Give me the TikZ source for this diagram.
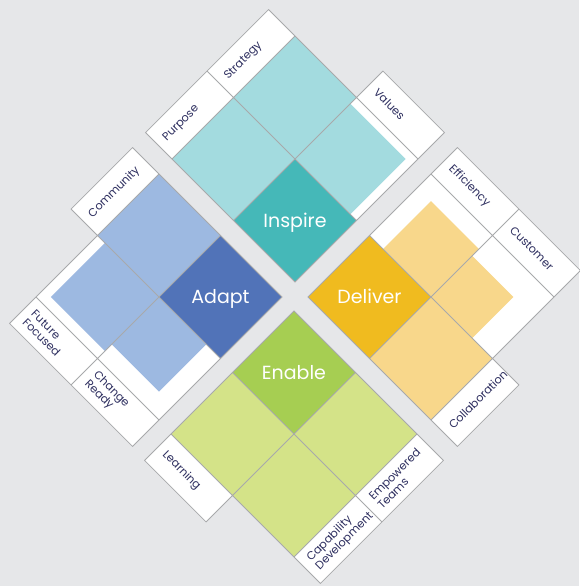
\documentclass[tikz,border=0pt]{standalone}
\usepackage{fontspec}
\setmainfont{Poppins}
\definecolor{bg}{HTML}{E6E7E9}
\definecolor{linegrey}{HTML}{A8A9AB}
\definecolor{navy}{HTML}{2D2E5F}
\definecolor{insD}{HTML}{45B8B8}
\definecolor{insL}{HTML}{A3DBDF}
\definecolor{adaD}{HTML}{5173B8}
\definecolor{adaL}{HTML}{9DB9E1}
\definecolor{delD}{HTML}{F0BB1F}
\definecolor{delL}{HTML}{F8D78B}
\definecolor{enaD}{HTML}{A6CE52}
\definecolor{enaL}{HTML}{D4E388}
\tikzset{
  cellline/.style={draw=linegrey, line width=0.75pt},
  lab/.style={text=navy, font=\fontsize{11.3}{12.3}\selectfont, anchor=west, inner sep=0pt, align=left},
  big/.style={text=white, font=\fontsize{19}{20}\selectfont, inner sep=0pt, text height=13pt, text depth=0pt},
  quad/.style={rotate=45, x=86.97pt, y=86.97pt}
}
\begin{document}
\begin{tikzpicture}[x=1pt,y=1pt]
\fill[bg] (0,0) rectangle (579,-586);
\useasboundingbox (0,0) rectangle (579,-586);

% ---------- Inspire ----------
\begin{scope}[shift={(295pt,-282pt)}, quad]
  \fill[white] (1,0) rectangle (2,1);
  \fill[white] (0,2) rectangle (2,2.43);
  \fill[white] (2,0) rectangle (2.43,1);
  \fill[insL] (0,1) rectangle (2,2);
  \fill[insL] (1,0.1) rectangle (1.9,1);
  \fill[insD] (0,0) rectangle (1,1);
  \draw[cellline] (0,0) rectangle (1,1) (1,0) rectangle (2,1)
    (0,1) rectangle (1,2) (1,1) rectangle (2,2)
    (0,2) rectangle (1,2.43) (1,2) rectangle (2,2.43) (2,0) rectangle (2.43,1);
  \node[big] (inspire) at (0.5,0.5) {Inspire};
  \node[lab, rotate=45] (purpose) at (0.1,2.215) {Purpose};
  \node[lab, rotate=45] (strategy) at (1.1,2.215) {Strategy};
  \node[lab, rotate=-45] (values) at (2.215,0.9) {Values};
\end{scope}

% ---------- Adapt ----------
\begin{scope}[shift={(282pt,-297pt)}, quad]
  \fill[white] (-2,0) rectangle (-1,2);
  \fill[white] (-1,2) rectangle (0,2.43);
  \fill[white] (-2.43,0) rectangle (-2,2);
  \fill[adaL] (-1,1) rectangle (0,2);
  \fill[adaL] (-1.88,1) rectangle (-1,1.88);
  \fill[adaL] (-1.77,0.23) rectangle (-1,1);
  \fill[adaD] (-1,0) rectangle (0,1);
  \draw[cellline] (-1,0) rectangle (0,1) (-1,1) rectangle (0,2)
    (-2,1) rectangle (-1,2) (-2,0) rectangle (-1,1)
    (-1,2) rectangle (0,2.43) (-2.43,1) rectangle (-2,2) (-2.43,0) rectangle (-2,1);
  \node[big] (adapt) at (-0.5,0.5) {Adapt};
  \node[lab, rotate=45] (community) at (-0.9,2.215) {Community};
  \node[lab, rotate=-45] (future) at (-2.215,1.9) {Future\\Focused};
  \node[lab, rotate=-45] (change) at (-2.215,0.9) {Change\\Ready};
\end{scope}

% ---------- Deliver ----------
\begin{scope}[shift={(308pt,-297pt)}, quad]
  \fill[white] (1,-2) rectangle (2,0);
  \fill[white] (2,-2) rectangle (2.43,0);
  \fill[white] (0,-2.43) rectangle (1,-2);
  \fill[delL] (0,-2) rectangle (1,-1);
  \fill[delL] (1,-1) rectangle (1.78,-0.22);
  \fill[delL] (1,-1.67) rectangle (1.67,-1);
  \fill[delD] (0,-1) rectangle (1,0);
  \draw[cellline] (0,-1) rectangle (1,0) (0,-2) rectangle (1,-1)
    (1,-1) rectangle (2,0) (1,-2) rectangle (2,-1)
    (2,-1) rectangle (2.43,0) (2,-2) rectangle (2.43,-1) (0,-2.43) rectangle (1,-2);
  \node[big] (deliver) at (0.5,-0.5) {Deliver};
  \node[lab, rotate=-45] (efficiency) at (2.215,-0.1) {Efficiency};
  \node[lab, rotate=-45] (customer) at (2.215,-1.1) {Customer};
  \node[lab, rotate=45] (collab) at (0.1,-2.215) {Collaboration};
\end{scope}

% ---------- Enable ----------
\begin{scope}[shift={(294pt,-311pt)}, quad]
  \fill[white] (-2.43,-1) rectangle (-2,0);
  \fill[white] (-2,-2.43) rectangle (0,-2);
  \fill[enaL] (-2,-2) rectangle (0,0);
  \fill[enaD] (-1,-1) rectangle (0,0);
  \draw[cellline] (-1,-1) rectangle (0,0) (-2,-1) rectangle (-1,0)
    (-1,-2) rectangle (0,-1) (-2,-2) rectangle (-1,-1)
    (-2.43,-1) rectangle (-2,0) (-2,-2.43) rectangle (-1,-2) (-1,-2.43) rectangle (0,-2);
  \node[big] (enable) at (-0.5,-0.5) {Enable};
  \node[lab, rotate=-45] (learning) at (-2.215,-0.1) {Learning};
  \node[lab, rotate=45] (capability) at (-1.9,-2.215) {Capability\\Development};
  \node[lab, rotate=45] (empowered) at (-0.9,-2.215) {Empowered\\Teams};
\end{scope}
\end{tikzpicture}
\end{document}
